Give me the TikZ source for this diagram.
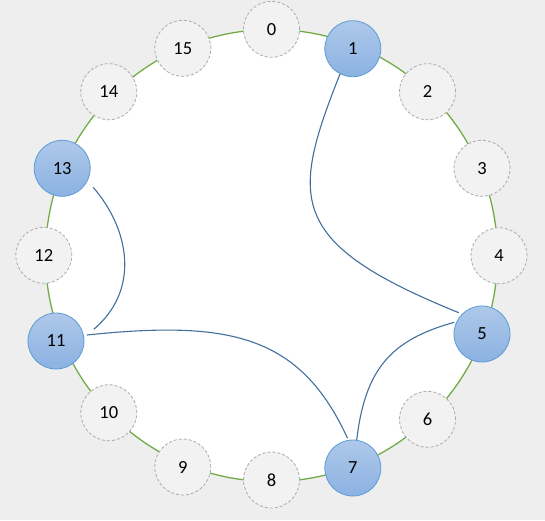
\documentclass[tikz,border=0pt]{standalone}
\usepackage{fontspec}
\setmainfont{Carlito}
\usetikzlibrary{calc}
\definecolor{bg}{HTML}{EEEEEE}
\definecolor{ringgreen}{HTML}{70AD47}
\definecolor{bluetop}{HTML}{AEC8E9}
\definecolor{bluebot}{HTML}{8BB2E2}
\definecolor{blueborder}{HTML}{5B9BD5}
\definecolor{idlefill}{HTML}{F2F2F2}
\definecolor{dashgray}{HTML}{ABABAB}
\definecolor{linkblue}{HTML}{41709E}
\begin{document}
\begin{tikzpicture}[x=1pt,y=-1pt,
  base/.style={circle, minimum size=56pt, inner sep=0pt, line width=0.8pt, font=\fontsize{18.5}{22}\selectfont},
  active/.style={base, draw=blueborder, top color=bluetop, bottom color=bluebot},
  idle/.style={base, draw=dashgray, dash pattern=on 3pt off 2pt, fill=idlefill},
  link/.style={draw=linkblue, line width=1.1pt},
  ring/.style={draw=ringgreen, fill=white, line width=1.3pt}]
\useasboundingbox (0,0) rectangle (545,520);
\fill[bg] (0,0) rectangle (545,520);
\path[ring] (271.5,255.5) circle [radius=226pt];
% nodes
\node[idle]   (n0)  at (271.5,29.3)  {0};
\node[active] (n1)  at (352.8,48.7)  {1};
\node[idle]   (n2)  at (427.5,91.7)  {2};
\node[idle]   (n3)  at (482,168.3)   {3};
\node[idle]   (n4)  at (499,255.7)   {4};
\node[active] (n5)  at (482,334)     {5};
\node[idle]   (n6)  at (427.5,419.3) {6};
\node[active] (n7)  at (352.8,468)   {7};
\node[idle]   (n8)  at (271.5,480)   {8};
\node[idle]   (n9)  at (182.8,467)   {9};
\node[idle]   (n10) at (108.8,412.7) {10};
\node[active] (n11) at (56,341)      {11};
\node[idle]   (n12) at (43.8,255.3)  {12};
\node[active] (n13) at (62.2,168.3)  {13};
\node[idle]   (n14) at (108.8,91.7)  {14};
\node[idle]   (n15) at (182.8,48.3)  {15};
% links
\draw[link] ($(n1)+(-12.8,25.3)$) .. controls (290,200) and (287,243) .. ($(n5)+(-23.2,-21.3)$);
\draw[link] ($(n5)+(-27.7,-11.7)$) .. controls (390,340) and (365,370) .. ($(n7)+(3.9,-28)$);
\draw[link] ($(n11)+(30.9,-6)$) .. controls (230,320) and (300,335) .. ($(n7)+(-5.2,-29.7)$);
\draw[link] ($(n13)+(31,19)$) .. controls (130,230) and (140,290) .. ($(n11)+(37.8,-11.7)$);
\end{tikzpicture}
\end{document}
